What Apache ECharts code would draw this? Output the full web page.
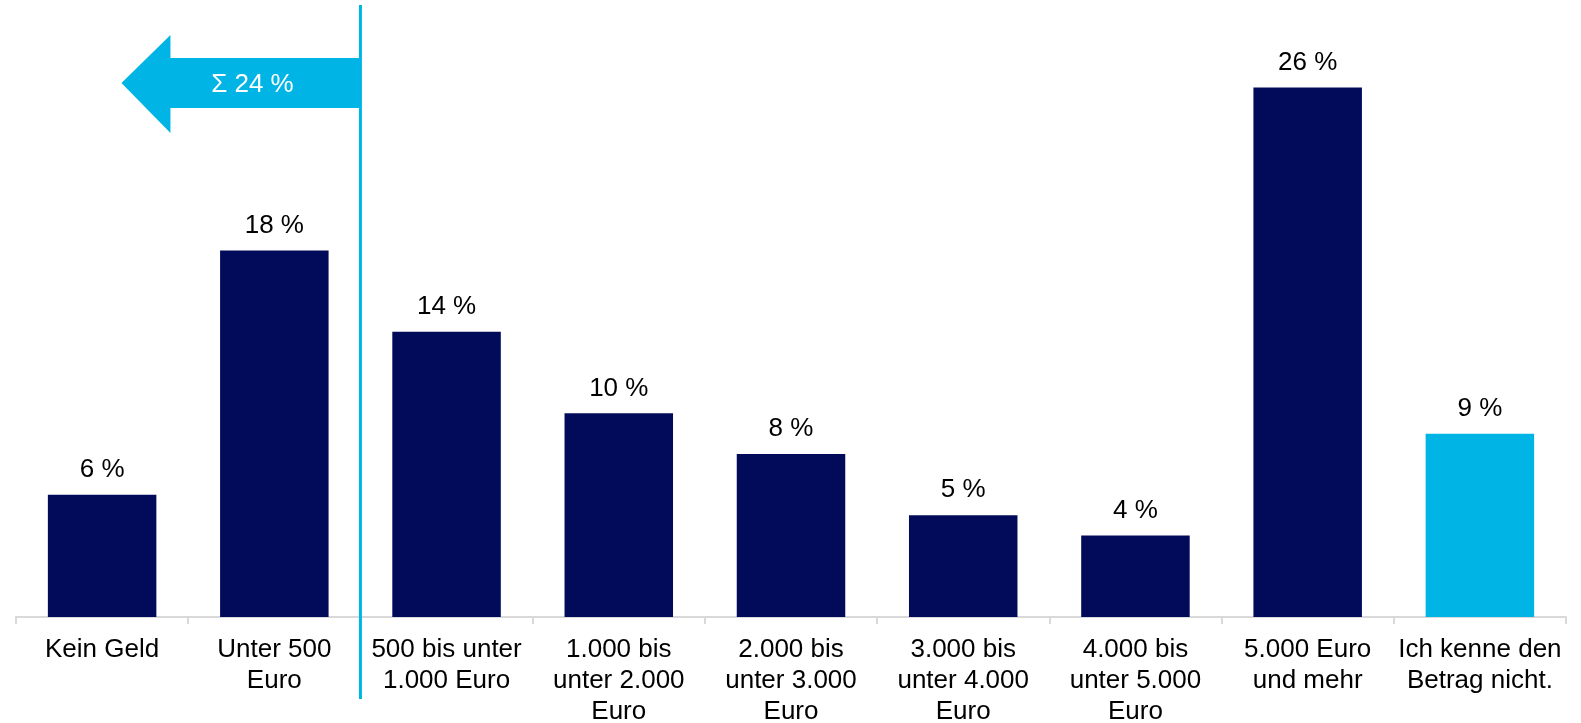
<!DOCTYPE html>
<html><head><meta charset="utf-8">
<script src="https://cdn.jsdelivr.net/npm/echarts@6/dist/echarts.min.js"></script>
<style>html,body{margin:0;padding:0;background:#fff}#c{width:1581px;height:723px}</style>
</head><body><div id="c"></div>
<script>
const categories = ["Kein Geld", "Unter 500\nEuro", "500 bis unter\n1.000 Euro", "1.000 bis\nunter 2.000\nEuro", "2.000 bis\nunter 3.000\nEuro", "3.000 bis\nunter 4.000\nEuro", "4.000 bis\nunter 5.000\nEuro", "5.000 Euro\nund mehr", "Ich kenne den\nBetrag nicht."];
const values = [6, 18, 14, 10, 8, 5, 4, 26, 9];
const highlightIndex = 8;
const sumLabel = "Σ 24 %";
const dark = "#020b59", light = "#00b5e5";
const font = "'Liberation Sans', Arial, sans-serif";

const chart = echarts.init(document.getElementById('c'));
chart.setOption({
  animation: false,
  grid: {left: 16, right: 15, top: 6, bottom: 106, containLabel: false, outerBoundsMode: 'none'},
  xAxis: {
    type: 'category', data: categories,
    axisLine: {lineStyle: {color: '#d9d9d9', width: 2}},
    axisTick: {show: true, length: 7, lineStyle: {color: '#d9d9d9', width: 2}},
    axisLabel: {color: '#000', fontSize: 26, lineHeight: 31, fontFamily: font, margin: 17, interval: 0}
  },
  yAxis: {type: 'value', min: 0, max: 30, show: false, splitLine: {show: false}},
  series: [{
    type: 'bar', barWidth: '63%',
    data: values.map((v, i) => ({value: v, itemStyle: {color: i === highlightIndex ? light : dark}})),
    label: {show: true, position: 'top', distance: 12, formatter: '{c} %', color: '#000', fontSize: 26, fontFamily: font}
  }]
});

const x1 = chart.convertToPixel({xAxisIndex: 0}, categories[1]);
const x2 = chart.convertToPixel({xAxisIndex: 0}, categories[2]);
const lx = (x1 + x2) / 2;
const cy = 83;
chart.setOption({
  graphic: [
    {type: 'line', shape: {x1: lx, y1: 5, x2: lx, y2: 699}, style: {stroke: light, lineWidth: 3}, z: 10},
    {type: 'polygon', shape: {points: [[lx, cy - 25], [lx - 190, cy - 25], [lx - 190, cy - 48], [lx - 239, cy], [lx - 190, cy + 50], [lx - 190, cy + 25], [lx, cy + 25]]}, style: {fill: light}, z: 9},
    {type: 'text', x: lx - 108, y: cy + 2, style: {text: sumLabel, fill: '#fff', fontSize: 26, fontFamily: font, textAlign: 'center', textVerticalAlign: 'middle'}, z: 11}
  ]
});
</script></body></html>
